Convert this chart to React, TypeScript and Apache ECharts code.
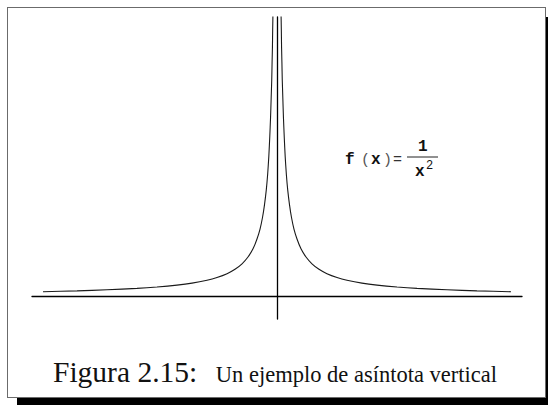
import React, { useEffect, useRef } from "react";
import * as echarts from "echarts";

// Right branch of the curve (x > 0); the left branch mirrors it.
const branchX = [
  0.034, 0.037, 0.039, 0.042, 0.045, 0.05, 0.055, 0.062, 0.07, 0.08, 0.092,
  0.107, 0.124, 0.145, 0.171, 0.205, 0.248, 0.299, 0.359, 0.427, 0.513, 0.598,
  0.726, 0.855, 1.026, 1.197, 1.453, 1.709, 2.0,
];
const branchY = [
  28.6, 26.63, 24.9, 23.36, 21.6, 19.73, 17.87, 15.88, 13.94, 12.15, 10.56,
  9.12, 7.85, 6.69, 5.7, 4.72, 3.9, 3.22, 2.67, 2.23, 1.85, 1.58, 1.29, 1.09,
  0.9, 0.76, 0.62, 0.51, 0.43,
];

const xRange = [-2.094, 2.094];
const yRange = [-2.3, 27.9];

const captionLead = "Figura 2.15:";
const captionText = "Un ejemplo de asíntota vertical";

export default function App() {
  const ref = useRef<HTMLDivElement>(null);

  useEffect(() => {
    if (!ref.current) return;
    const chart = echarts.init(ref.current, null, { renderer: "svg" });

    const right = branchX.map((x, i) => [x, branchY[i]]);
    const left = branchX.map((x, i) => [-x, branchY[i]]).reverse();

    const mono = "'Liberation Mono', 'DejaVu Sans Mono', monospace";
    const serif = "'Liberation Serif', 'DejaVu Serif', serif";
    const fc = "#111";
    const mid = { textVerticalAlign: "middle" };

    chart.setOption({
      animation: false,
      backgroundColor: "transparent",
      grid: { left: 32, right: 26, top: 17, bottom: 86, containLabel: false },
      xAxis: {
        type: "value",
        min: xRange[0],
        max: xRange[1],
        axisLine: { onZero: true, lineStyle: { color: "#000", width: 1.3 } },
        axisTick: { show: false },
        axisLabel: { show: false },
        splitLine: { show: false },
      },
      yAxis: {
        type: "value",
        min: yRange[0],
        max: yRange[1],
        axisLine: { show: true, onZero: true, lineStyle: { color: "#000", width: 1.3 } },
        axisTick: { show: false },
        axisLabel: { show: false },
        splitLine: { show: false },
      },
      graphic: [
        // formula label
        { type: "text", x: 345, y: 160, style: { text: "f", font: `bold 16px ${mono}`, fill: fc, ...mid } },
        { type: "text", x: 361, y: 160, style: { text: "(", font: `15px ${mono}`, fill: "#555", ...mid } },
        { type: "text", x: 371, y: 160, style: { text: "x", font: `bold 16px ${mono}`, fill: fc, ...mid } },
        { type: "text", x: 383, y: 160, style: { text: ")", font: `15px ${mono}`, fill: "#555", ...mid } },
        { type: "text", x: 393, y: 160, style: { text: "=", font: `15px ${mono}`, fill: "#333", ...mid } },
        { type: "line", shape: { x1: 407, y1: 157, x2: 438, y2: 157 }, style: { stroke: "#222", lineWidth: 1 } },
        { type: "text", x: 418, y: 147, style: { text: "1", font: `bold 16px ${mono}`, fill: fc, ...mid } },
        { type: "text", x: 415, y: 172, style: { text: "x", font: `bold 16px ${mono}`, fill: fc, ...mid } },
        { type: "text", x: 426, y: 166, style: { text: "2", font: `12px ${mono}`, fill: fc, ...mid } },
        // caption
        { type: "text", x: 53, y: 372, style: { text: captionLead, font: `29.5px ${serif}`, fill: "#111", ...mid } },
        { type: "text", x: 497, y: 374, style: { text: captionText, font: `22.5px ${serif}`, fill: "#111", textAlign: "right", ...mid } },
      ],
      series: [
        {
          type: "line",
          data: left,
          showSymbol: false,
          smooth: 0.2,
          clip: true,
          lineStyle: { color: "#1a1a1a", width: 1.1 },
        },
        {
          type: "line",
          data: right,
          showSymbol: false,
          smooth: 0.2,
          clip: true,
          lineStyle: { color: "#1a1a1a", width: 1.1 },
        },
      ],
    });

    return () => chart.dispose();
  }, []);

  return (
    <div style={{ position: "fixed", left: 0, top: 0, width: 548, height: 405, overflow: "hidden", background: "#fff" }}>
      <div
        style={{
          position: "absolute",
          left: 7,
          top: 7,
          width: 539,
          height: 391,
          boxSizing: "border-box",
          border: "1.5px solid #6b6b6b",
          boxShadow: "10px 10px 0 0 #000",
          background: "#fff",
        }}
      />
      <div ref={ref} style={{ position: "absolute", left: 0, top: 0, width: 548, height: 405 }} />
    </div>
  );
}
